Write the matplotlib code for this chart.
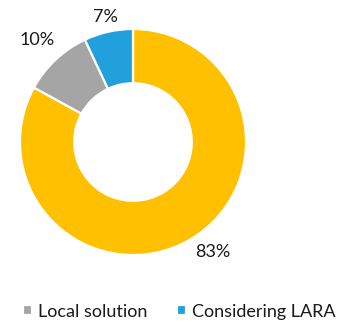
import matplotlib.pyplot as plt
import numpy as np

categories = ["Other", "Local solution", "Considering LARA"]
shares = [83, 10, 7]
colors = ["#FFC000", "#A5A5A5", "#22A0DC"]
legend_items = ["Local solution", "Considering LARA"]

plt.rcParams["font.family"] = ["Lato", "DejaVu Sans"]

fig = plt.figure(figsize=(3.38, 3.22), dpi=100)
ax = fig.add_axes([0.059, 0.208, 0.669, 0.702])

wedges, _ = ax.pie(
    shares,
    colors=colors,
    startangle=90,
    counterclock=False,
    radius=1.0,
    wedgeprops=dict(width=0.48, edgecolor="white", linewidth=1.6),
)
ax.set_xlim(-1, 1)
ax.set_ylim(-1, 1)
ax.set_aspect("equal")

# percentage labels just outside each ring segment
label_radius = {"Other": 1.13, "Local solution": 1.24, "Considering LARA": 1.13}
for wedge, name, value in zip(wedges, categories, shares):
    mid = np.deg2rad((wedge.theta1 + wedge.theta2) / 2)
    r = label_radius[name]
    x, y = r * np.cos(mid), r * np.sin(mid)
    if name == "Other":
        x += 0.13
    ax.text(x, y, f"{value}%", ha="center", va="center", fontsize=13, color="#1a1a1a")

handles = [wedges[categories.index(n)] for n in legend_items]
fig.legend(
    handles,
    legend_items,
    loc="center",
    bbox_to_anchor=(0.53, 0.032),
    ncol=2,
    frameon=False,
    fontsize=13,
    handlelength=0.5,
    handleheight=0.5,
    handletextpad=0.35,
    columnspacing=1.6,
    labelcolor="#1a1a1a",
)

fig.savefig("out.png", dpi=100)
